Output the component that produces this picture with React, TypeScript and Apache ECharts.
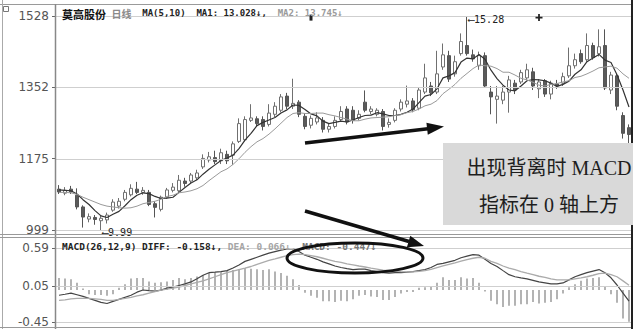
import React, { useEffect, useRef } from "react";
import * as echarts from "echarts";

const stockName = "莫高股份";
const periodLabel = "日线";
const maLabel = "MA(5,10)";
const ma1Last = "13.028";
const ma2Last = "13.745";
const macdLabel = "MACD(26,12,9)";
const diffLast = "-0.158";
const deaLast = "0.066";
const macdLast = "-0.447";
const highValue = 15.28;
const lowValue = 9.99;
const highIndex = 68;
const lowIndex = 7;
const priceTicks = [9.99, 11.7533, 13.5167, 15.28];
const macdTicks = [-0.45, 0.05, 0.59];
const noteLine1 = "出现背离时 MACD";
const noteLine2 = "指标在 0 轴上方";
const eventDays = [42, 80];

const opens = [
  11.0, 10.9, 11.0, 10.85, 10.56, 10.26, 10.3, 10.22, 10.24, 10.48,
  10.58, 10.75, 10.86, 11.0, 10.92, 10.92, 10.64, 10.5, 10.8, 10.97,
  10.96, 11.2, 11.2, 11.28, 11.55, 11.72, 11.78, 11.7, 11.86, 11.84,
  12.18, 12.22, 12.7, 12.74, 12.72, 12.6, 12.85, 12.95, 13.3, 13.05,
  13.15, 12.8, 12.58, 12.66, 12.7, 12.48, 12.55, 12.72, 12.98, 12.95,
  12.75, 13.15, 12.92, 12.85, 12.92, 12.6, 12.7, 12.98, 13.1, 13.18,
  13.0, 13.4, 13.55, 13.4, 14.02, 14.3, 13.85, 14.35, 14.55, 14.32,
  14.05, 14.3, 13.4, 13.22, 13.2, 13.4, 13.62, 13.65, 13.75, 13.9,
  13.48, 13.68, 13.35, 13.6, 13.62, 13.8, 14.05, 14.35, 14.2, 14.55,
  14.35, 14.55, 13.45, 13.8, 12.82, 12.52,
];
const closes = [
  10.93, 10.97, 10.93, 10.56, 10.31, 10.32, 10.25, 10.28, 10.36, 10.68,
  10.7, 10.92, 11.02, 10.92, 10.97, 10.62, 10.55, 10.8, 10.98, 11.05,
  11.22, 11.14, 11.35, 11.4, 11.76, 11.8, 11.68, 11.9, 11.7, 12.12,
  12.62, 12.72, 12.76, 12.62, 12.55, 12.88, 13.05, 13.28, 13.05, 13.12,
  12.85, 12.55, 12.75, 12.76, 12.48, 12.55, 12.7, 12.92, 12.66, 12.7,
  12.85, 12.95, 12.98, 12.95, 12.55, 12.65, 12.95, 13.15, 13.18, 12.96,
  13.45, 13.75, 13.38, 13.85, 14.32, 13.72, 14.15, 14.65, 14.35, 14.22,
  14.3, 13.55, 13.28, 13.3, 13.4, 13.7, 13.45, 13.88, 13.95, 13.55,
  13.65, 13.35, 13.62, 13.55, 13.78, 14.05, 14.2, 14.15, 14.55, 14.25,
  14.52, 13.5, 13.82, 13.05, 12.38, 12.35,
];
const highs = [
  11.1, 11.05, 11.08, 11.02, 10.6, 10.4, 10.36, 10.34, 10.42, 10.75,
  10.78, 10.98, 11.12, 11.18, 11.05, 10.98, 10.7, 10.84, 11.03, 11.15,
  11.35, 11.28, 11.4, 11.48, 11.86, 11.92, 11.95, 12.0, 11.95, 12.18,
  12.75, 12.8, 13.1, 12.8, 12.8, 13.1, 13.15, 13.35, 13.38, 13.73,
  13.2, 12.88, 12.82, 12.9, 12.78, 12.62, 12.8, 13.05, 13.05, 13.05,
  12.95, 13.44, 13.05, 13.0, 12.98, 12.75, 13.0, 13.22, 13.56, 13.25,
  13.52, 14.1, 13.65, 14.42, 14.6, 14.42, 14.3, 14.85, 15.28, 14.45,
  14.4, 14.38, 13.55, 13.55, 13.55, 13.8, 13.7, 13.95, 14.1, 14.0,
  13.72, 13.72, 13.68, 13.7, 13.88, 14.5, 14.35, 14.45, 14.85, 14.62,
  14.95, 14.95, 13.9, 13.85, 12.9, 12.6,
];
const lows = [
  10.88, 10.85, 10.88, 10.5, 10.05, 10.18, 10.12, 9.99, 10.15, 10.44,
  10.52, 10.7, 10.82, 10.88, 10.86, 10.58, 10.3, 10.45, 10.76, 10.92,
  10.92, 11.06, 11.15, 11.22, 11.5, 11.66, 11.62, 11.62, 11.62, 11.6,
  12.14, 12.18, 12.66, 12.55, 12.45, 12.55, 12.78, 12.9, 12.98, 12.98,
  12.78, 12.48, 12.5, 12.6, 12.4, 12.4, 12.5, 12.66, 12.6, 12.62,
  12.7, 12.9, 12.85, 12.8, 12.45, 12.52, 12.65, 12.92, 13.02, 12.9,
  12.95, 13.35, 13.3, 13.35, 13.95, 13.65, 13.78, 14.3, 14.3, 14.15,
  13.95, 13.5, 12.85, 12.62, 13.1, 12.89, 13.35, 13.6, 13.7, 13.45,
  13.25, 13.28, 13.22, 13.48, 13.55, 13.75, 13.98, 14.1, 14.15, 14.2,
  14.28, 13.45, 13.35, 12.95, 12.25, 12.12,
];
const ma5 = [
  10.98, 10.97, 10.96, 10.88, 10.74, 10.62, 10.47, 10.34, 10.3, 10.38,
  10.45, 10.59, 10.74, 10.85, 10.91, 10.89, 10.82, 10.77, 10.78, 10.8,
  10.92, 11.04, 11.15, 11.23, 11.37, 11.49, 11.6, 11.71, 11.77, 11.84,
  12.0, 12.21, 12.38, 12.57, 12.65, 12.71, 12.77, 12.88, 12.96, 13.08,
  13.07, 12.97, 12.86, 12.81, 12.68, 12.62, 12.65, 12.68, 12.66, 12.71,
  12.77, 12.82, 12.83, 12.89, 12.86, 12.82, 12.82, 12.85, 12.9, 12.98,
  13.14, 13.3, 13.34, 13.48, 13.75, 13.8, 13.88, 14.14, 14.24, 14.22,
  14.33, 14.21, 13.94, 13.73, 13.57, 13.45, 13.43, 13.55, 13.68, 13.71,
  13.7, 13.68, 13.62, 13.54, 13.59, 13.67, 13.84, 13.95, 14.15, 14.24,
  14.33, 14.19, 14.13, 13.83, 13.45, 13.03,
];
const ma10 = [
  10.92, 10.92, 10.91, 10.87, 10.8, 10.74, 10.68, 10.62, 10.58, 10.56,
  10.54, 10.53, 10.54, 10.58, 10.64, 10.67, 10.7, 10.75, 10.82, 10.85,
  10.91, 10.93, 10.96, 11.01, 11.09, 11.21, 11.32, 11.43, 11.5, 11.61,
  11.75, 11.91, 12.05, 12.17, 12.25, 12.36, 12.49, 12.63, 12.77, 12.87,
  12.89, 12.87, 12.87, 12.88, 12.88, 12.84, 12.81, 12.77, 12.73, 12.69,
  12.69, 12.73, 12.76, 12.77, 12.78, 12.79, 12.82, 12.84, 12.89, 12.92,
  12.98, 13.06, 13.1, 13.19, 13.36, 13.47, 13.59, 13.74, 13.86, 13.98,
  14.07, 14.05, 14.04, 13.98, 13.89, 13.89, 13.82, 13.74, 13.7, 13.64,
  13.57, 13.55, 13.59, 13.61, 13.65, 13.68, 13.76, 13.79, 13.85, 13.92,
  14.0, 14.02, 14.04, 13.99, 13.85, 13.74,
];
const diff = [
  -0.074, -0.06, -0.045, -0.067, -0.089, -0.118, -0.146, -0.175, -0.19, -0.161,
  -0.132, -0.103, -0.074, -0.031, 0.0, -0.01, -0.017, -0.002, 0.027, 0.041,
  0.063, 0.085, 0.113, 0.157, 0.207, 0.243, 0.25, 0.258, 0.272, 0.308,
  0.352, 0.402, 0.431, 0.46, 0.489, 0.518, 0.54, 0.561, 0.576, 0.576,
  0.54, 0.489, 0.46, 0.431, 0.395, 0.366, 0.337, 0.316, 0.301, 0.287,
  0.294, 0.294, 0.272, 0.258, 0.243, 0.236, 0.243, 0.243, 0.25, 0.258,
  0.272, 0.287, 0.316, 0.359, 0.373, 0.395, 0.417, 0.453, 0.475, 0.496,
  0.489, 0.431, 0.373, 0.33, 0.272, 0.215, 0.186, 0.171, 0.157, 0.135,
  0.113, 0.099, 0.085, 0.085, 0.099, 0.142, 0.186, 0.215, 0.243, 0.265,
  0.287, 0.243, 0.171, 0.07, -0.045, -0.158,
];
const dea = [
  -0.146, -0.139, -0.125, -0.118, -0.118, -0.118, -0.125, -0.132, -0.146, -0.146,
  -0.132, -0.118, -0.103, -0.082, -0.067, -0.045, -0.024, -0.002, 0.012, 0.027,
  0.041, 0.063, 0.085, 0.106, 0.128, 0.157, 0.186, 0.215, 0.243, 0.265,
  0.287, 0.308, 0.33, 0.359, 0.388, 0.417, 0.438, 0.46, 0.482, 0.496,
  0.503, 0.496, 0.482, 0.467, 0.446, 0.424, 0.402, 0.388, 0.366, 0.352,
  0.337, 0.323, 0.308, 0.294, 0.28, 0.272, 0.265, 0.258, 0.255, 0.255,
  0.262, 0.272, 0.29, 0.315, 0.34, 0.36, 0.38, 0.405, 0.428, 0.446,
  0.46, 0.446, 0.402, 0.373, 0.337, 0.308, 0.287, 0.258, 0.236, 0.215,
  0.193, 0.178, 0.157, 0.142, 0.142, 0.142, 0.157, 0.171, 0.186, 0.207,
  0.229, 0.236, 0.215, 0.186, 0.128, 0.066,
];
const macdHist = [
  0.17, 0.16, 0.15, 0.1, 0.02, -0.06, -0.07, -0.07, -0.08, -0.06,
  0.03, 0.08, 0.16, 0.17, 0.17, 0.12, 0.1, 0.11, 0.12, 0.14,
  0.17, 0.15, 0.17, 0.19, 0.21, 0.24, 0.25, 0.25, 0.27, 0.28,
  0.29, 0.31, 0.3, 0.29, 0.28, 0.29, 0.26, 0.24, 0.2, 0.15,
  0.07, -0.04, -0.08, -0.11, -0.16, -0.16, -0.17, -0.15, -0.16, -0.13,
  -0.08, -0.07, -0.09, -0.1, -0.14, -0.14, -0.1, -0.05, -0.03, -0.03,
  0.03, 0.04, 0.05, 0.1, 0.18, 0.14, 0.14, 0.18, 0.16, 0.17,
  0.1, -0.02, -0.15, -0.2, -0.24, -0.22, -0.22, -0.2, -0.2, -0.17,
  -0.19, -0.18, -0.17, -0.13, -0.05, 0.04, 0.08, 0.13, 0.16, 0.17,
  0.18, 0.05, -0.06, -0.18, -0.4, -0.447,
];

const days = closes.map((_, i) => String(i + 1));
const candleData = closes.map((c, i) => [opens[i], c, lows[i], highs[i]]);

const MONO = '"DejaVu Sans Mono", monospace';
const CJK = '"Noto Sans CJK SC", sans-serif';

const gridLineSeries = (xi: number, ticks: number[]) => ({
  type: "line",
  xAxisIndex: xi,
  yAxisIndex: xi,
  data: [],
  silent: true,
  z: 1,
  markLine: {
    silent: true,
    symbol: ["none", "none"],
    label: { show: false },
    emphasis: { disabled: true },
    lineStyle: { color: "#cfcfcf", width: 1, type: "solid" },
    data: ticks.map((v) => ({ yAxis: v })),
  },
});

const axisLabelBase = {
  margin: 7,
  color: "#555",
  fontSize: 12,
  fontFamily: '"DejaVu Sans", sans-serif',
};

const option: any = {
  animation: false,
  backgroundColor: "#ffffff",
  title: [
    {
      left: 57,
      top: 3,
      text: `{n|${stockName}} {g|${periodLabel}}  {d|${maLabel}}  {d|MA1: ${ma1Last}↓,}  {l|MA2: ${ma2Last}↓}`,
      textStyle: {
        fontFamily: MONO,
        fontSize: 9,
        rich: {
          n: { fontFamily: CJK, fontSize: 11, fontWeight: "bold", color: "#111" },
          g: { fontFamily: CJK, fontSize: 10, color: "#8a8a8a" },
          d: { fontFamily: MONO, fontSize: 9, fontWeight: "bold", color: "#222" },
          l: { fontFamily: MONO, fontSize: 9, color: "#9a9a9a" },
        },
      },
    },
    {
      left: 57,
      top: 236,
      text: `{d|${macdLabel}} {d|DIFF: ${diffLast}↓,} {l|DEA: ${deaLast}↓,} {m|MACD: ${macdLast}↓}`,
      textStyle: {
        fontFamily: MONO,
        fontSize: 9.5,
        rich: {
          d: { fontFamily: MONO, fontSize: 9.5, fontWeight: "bold", color: "#222" },
          l: { fontFamily: MONO, fontSize: 9.5, color: "#a5a5a5" },
          m: { fontFamily: MONO, fontSize: 9.5, color: "#777" },
        },
      },
    },
  ],
  grid: [
    { left: 56, right: 8, top: 16, height: 214 },
    { left: 56, right: 8, top: 248, height: 74 },
  ],
  xAxis: [
    { type: "category", data: days, gridIndex: 0, show: false, boundaryGap: true },
    { type: "category", data: days, gridIndex: 1, show: false, boundaryGap: true },
  ],
  yAxis: [
    {
      type: "value",
      gridIndex: 0,
      min: lowValue,
      max: highValue,
      splitLine: { show: false },
      axisLine: { show: false },
      axisTick: { show: true, length: 4, customValues: priceTicks, lineStyle: { color: "#666" } },
      axisLabel: {
        ...axisLabelBase,
        customValues: priceTicks,
        formatter: (v: number) => String(Math.round(v * 100)),
      },
    },
    {
      type: "value",
      gridIndex: 1,
      min: macdTicks[0],
      max: macdTicks[2],
      splitLine: { show: false },
      axisLine: { show: false },
      axisTick: { show: true, length: 4, customValues: macdTicks, lineStyle: { color: "#666" } },
      axisLabel: {
        ...axisLabelBase,
        customValues: macdTicks,
        formatter: (v: number) => v.toFixed(2),
      },
    },
  ],
  series: [
    gridLineSeries(0, priceTicks),
    {
      type: "candlestick",
      xAxisIndex: 0,
      yAxisIndex: 0,
      data: candleData,
      barWidth: 4,
      z: 3,
      itemStyle: {
        color: "#ffffff",
        color0: "#5a5a5a",
        borderColor: "#707070",
        borderColor0: "#555555",
        borderWidth: 1,
      },
      markPoint: {
        silent: true,
        data: [
          {
            coord: [days[highIndex], highValue],
            symbol: "rect",
            symbolSize: 0.1,
            label: {
              show: true,
              position: "right",
              distance: 1,
              offset: [0, 3],
              formatter: "⟵" + highValue.toFixed(2),
              color: "#222",
              fontFamily: MONO,
              fontSize: 10,
            },
          },
          {
            coord: [days[lowIndex], lowValue],
            symbol: "rect",
            symbolSize: 0.1,
            label: {
              show: true,
              position: "right",
              distance: 1,
              offset: [0, 2],
              formatter: "⟵" + lowValue.toFixed(2),
              color: "#222",
              fontFamily: MONO,
              fontSize: 10,
            },
          },
          {
            coord: [days[eventDays[0]], 15.24],
            symbol: "rect",
            symbolSize: [3, 6],
            itemStyle: { color: "#222" },
            label: { show: false },
          },
          {
            coord: [days[eventDays[1]], 15.24],
            symbol: "path://M3,0H5V3H8V5H5V8H3V5H0V3H3Z",
            symbolSize: 7,
            itemStyle: { color: "#222" },
            label: { show: false },
          },
        ],
      },
    },
    {
      type: "line",
      name: "MA5",
      xAxisIndex: 0,
      yAxisIndex: 0,
      data: ma5,
      showSymbol: false,
      silent: true,
      z: 4,
      lineStyle: { color: "#333", width: 1.2 },
    },
    {
      type: "line",
      name: "MA10",
      xAxisIndex: 0,
      yAxisIndex: 0,
      data: ma10,
      showSymbol: false,
      silent: true,
      z: 4,
      lineStyle: { color: "#9a9a9a", width: 1 },
    },
    gridLineSeries(1, macdTicks),
    {
      type: "bar",
      name: "MACD",
      xAxisIndex: 1,
      yAxisIndex: 1,
      data: macdHist,
      barWidth: 1.5,
      silent: true,
      itemStyle: { color: "#9a9a9a" },
    },
    {
      type: "line",
      name: "DIFF",
      xAxisIndex: 1,
      yAxisIndex: 1,
      data: diff,
      showSymbol: false,
      silent: true,
      z: 4,
      lineStyle: { color: "#444", width: 1.2 },
    },
    {
      type: "line",
      name: "DEA",
      xAxisIndex: 1,
      yAxisIndex: 1,
      data: dea,
      showSymbol: false,
      silent: true,
      z: 4,
      lineStyle: { color: "#ababab", width: 1.3 },
    },
  ],
  graphic: [
    { type: "line", z: 50, shape: { x1: 0, y1: 4.5, x2: 632, y2: 4.5 }, style: { stroke: "#9a9a9a", lineWidth: 1 } },
    { type: "line", z: 50, shape: { x1: 2.5, y1: 0, x2: 2.5, y2: 329 }, style: { stroke: "#aaaaaa", lineWidth: 1 } },
    { type: "line", z: 50, shape: { x1: 55.5, y1: 4, x2: 55.5, y2: 329 }, style: { stroke: "#888888", lineWidth: 1.5 } },
    { type: "line", z: 50, shape: { x1: 0, y1: 234.5, x2: 632, y2: 234.5 }, style: { stroke: "#999999", lineWidth: 1 } },
    { type: "line", z: 50, shape: { x1: 0, y1: 237.5, x2: 632, y2: 237.5 }, style: { stroke: "#999999", lineWidth: 1 } },
    { type: "line", z: 50, shape: { x1: 0, y1: 327.5, x2: 632, y2: 327.5 }, style: { stroke: "#999999", lineWidth: 1 } },
    { type: "rect", z: 50, shape: { x: 3.5, y: 6.5, width: 5, height: 5 }, style: { fill: "none", stroke: "#777", lineWidth: 1 } },
    { type: "rect", z: 60, shape: { x: 443, y: 143, width: 190, height: 82 }, style: { fill: "#d9d9d9" } },
    {
      type: "text",
      z: 61,
      style: {
        text: noteLine1,
        x: 549,
        y: 168,
        align: "center",
        verticalAlign: "middle",
        fontSize: 20,
        fontFamily: '"Liberation Serif", "Noto Sans CJK SC", serif',
        fill: "#1e1e1e",
      },
    },
    {
      type: "text",
      z: 61,
      style: {
        text: noteLine2,
        x: 549,
        y: 205,
        align: "center",
        verticalAlign: "middle",
        fontSize: 20,
        fontFamily: '"Liberation Serif", "Noto Sans CJK SC", serif',
        fill: "#1e1e1e",
      },
    },
    { type: "line", z: 55, shape: { x1: 632, y1: 0, x2: 632, y2: 329 }, style: { stroke: "#222", lineWidth: 2 } },
    { type: "line", z: 62, shape: { x1: 305, y1: 143, x2: 428, y2: 128.8 }, style: { stroke: "#111", lineWidth: 3.5 } },
    { type: "polygon", z: 62, shape: { points: [[444, 126.5], [426.4, 122.8], [427.8, 134.8]] }, style: { fill: "#111" } },
    { type: "line", z: 62, shape: { x1: 305, y1: 211, x2: 409, y2: 241.5 }, style: { stroke: "#111", lineWidth: 3.5 } },
    { type: "polygon", z: 62, shape: { points: [[424, 246], [406.9, 247.3], [410.3, 235.7]] }, style: { fill: "#111" } },
    { type: "ellipse", z: 62, shape: { cx: 355, cy: 258, rx: 68, ry: 15 }, style: { fill: "none", stroke: "#111", lineWidth: 3 } },
  ],
};

export default function App() {
  const ref = useRef<HTMLDivElement>(null);
  useEffect(() => {
    if (!ref.current) return;
    const chart = echarts.init(ref.current, undefined, { renderer: "svg" });
    chart.setOption(option);
    return () => chart.dispose();
  }, []);
  return (
    <div
      ref={ref}
      style={{ position: "fixed", left: 0, top: 0, width: 640, height: 329, background: "#fff" }}
    />
  );
}
